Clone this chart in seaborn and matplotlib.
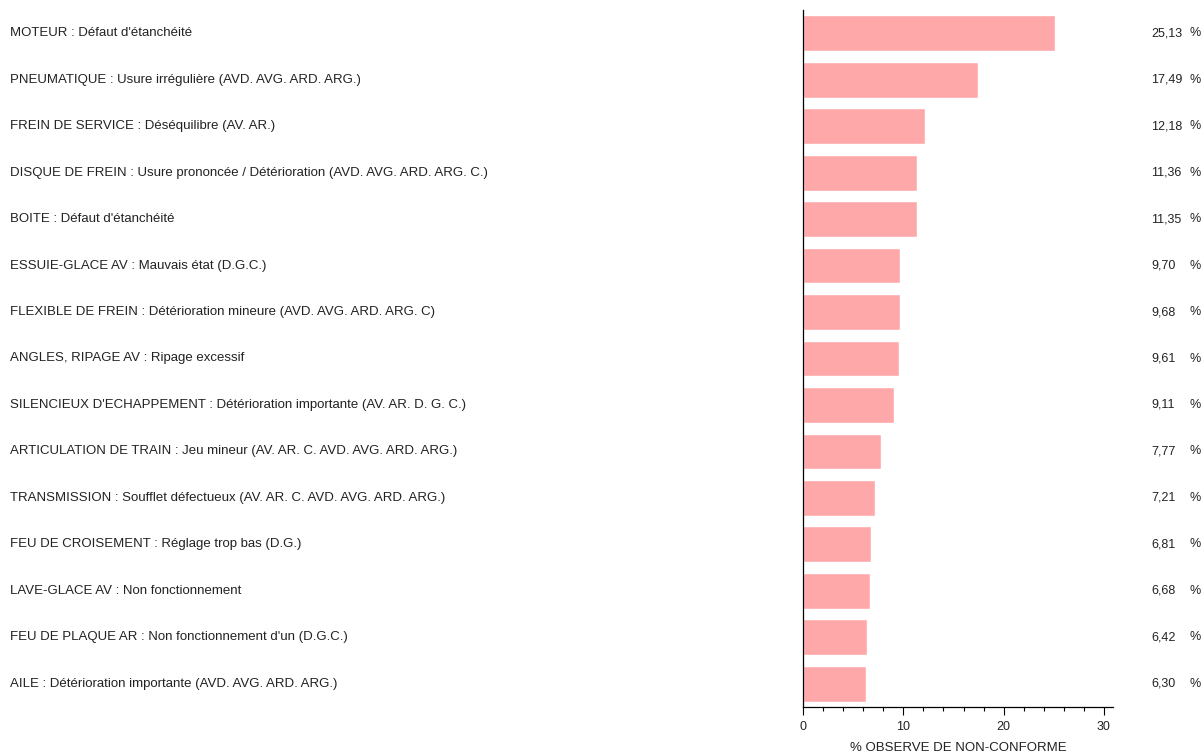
import numpy as np
import matplotlib
matplotlib.use('Agg')
import matplotlib.pyplot as plt
import matplotlib.transforms as mtransforms
from matplotlib.ticker import MultipleLocator
import seaborn as sns

categories = [
    "MOTEUR : Défaut d'étanchéité",
    "PNEUMATIQUE : Usure irrégulière (AVD. AVG. ARD. ARG.)",
    "FREIN DE SERVICE : Déséquilibre (AV. AR.)",
    "DISQUE DE FREIN : Usure prononcée / Détérioration (AVD. AVG. ARD. ARG. C.)",
    "BOITE : Défaut d'étanchéité",
    "ESSUIE-GLACE AV : Mauvais état (D.G.C.)",
    "FLEXIBLE DE FREIN : Détérioration mineure (AVD. AVG. ARD. ARG. C)",
    "ANGLES, RIPAGE AV : Ripage excessif",
    "SILENCIEUX D'ECHAPPEMENT : Détérioration importante (AV. AR. D. G. C.)",
    "ARTICULATION DE TRAIN : Jeu mineur (AV. AR. C. AVD. AVG. ARD. ARG.)",
    "TRANSMISSION : Soufflet défectueux (AV. AR. C. AVD. AVG. ARD. ARG.)",
    "FEU DE CROISEMENT : Réglage trop bas (D.G.)",
    "LAVE-GLACE AV : Non fonctionnement",
    "FEU DE PLAQUE AR : Non fonctionnement d'un (D.G.C.)",
    "AILE : Détérioration importante (AVD. AVG. ARD. ARG.)",
]
values = [25.13, 17.49, 12.18, 11.36, 11.35, 9.70, 9.68, 9.61, 9.11,
          7.77, 7.21, 6.81, 6.68, 6.42, 6.30]
x_label = "% OBSERVE DE NON-CONFORME"

sns.set_style("white")
plt.rcParams['font.family'] = ['Liberation Sans', 'DejaVu Sans']

W, H = 1203, 756
fig = plt.figure(figsize=(W / 100, H / 100), dpi=100)
ax = fig.add_axes([803 / W, 1 - 707 / H, 310 / W, 697 / H])

sns.barplot(x=values, y=categories, orient='h', color='#ffa8aa',
            saturation=1, width=0.77, ax=ax)

ax.set_xlim(0, 30.9)
ax.set_ylim(len(categories) - 0.5, -0.5)
ax.set_yticks([])
ax.set_ylabel("")
ax.xaxis.set_major_locator(MultipleLocator(10))
ax.xaxis.set_minor_locator(MultipleLocator(2))
ax.tick_params(axis='x', which='major', direction='out', length=6,
               width=0.8, color='black', labelsize=9, pad=4, bottom=True,
               labelcolor='#222222')
ax.tick_params(axis='x', which='minor', direction='out', length=3,
               width=0.8, color='black', bottom=True)
ax.set_xlabel(x_label, fontsize=9.5, color='#222222')
# put the axis title close to the bottom edge like the original
ax.xaxis.set_label_coords(0.5, -0.0495)

for s in ['top', 'right']:
    ax.spines[s].set_visible(False)
for s in ['left', 'bottom']:
    ax.spines[s].set_color('black')
    ax.spines[s].set_linewidth(0.9)

# labels on the left, values on the right
trans = mtransforms.blended_transform_factory(fig.transFigure, ax.transData)
for i, (lab, v) in enumerate(zip(categories, values)):
    ax.text(10 / W, i, lab, transform=trans, ha='left', va='center',
            fontsize=9.5, color='#222222')
    ax.text(1151 / W, i, f"{v:.2f}".replace('.', ','), transform=trans,
            ha='left', va='center', fontsize=9, color='#222222')
    ax.text(1189 / W, i, "%", transform=trans, ha='left', va='center',
            fontsize=9, color='#222222')

fig.savefig('out.png', dpi=100)
